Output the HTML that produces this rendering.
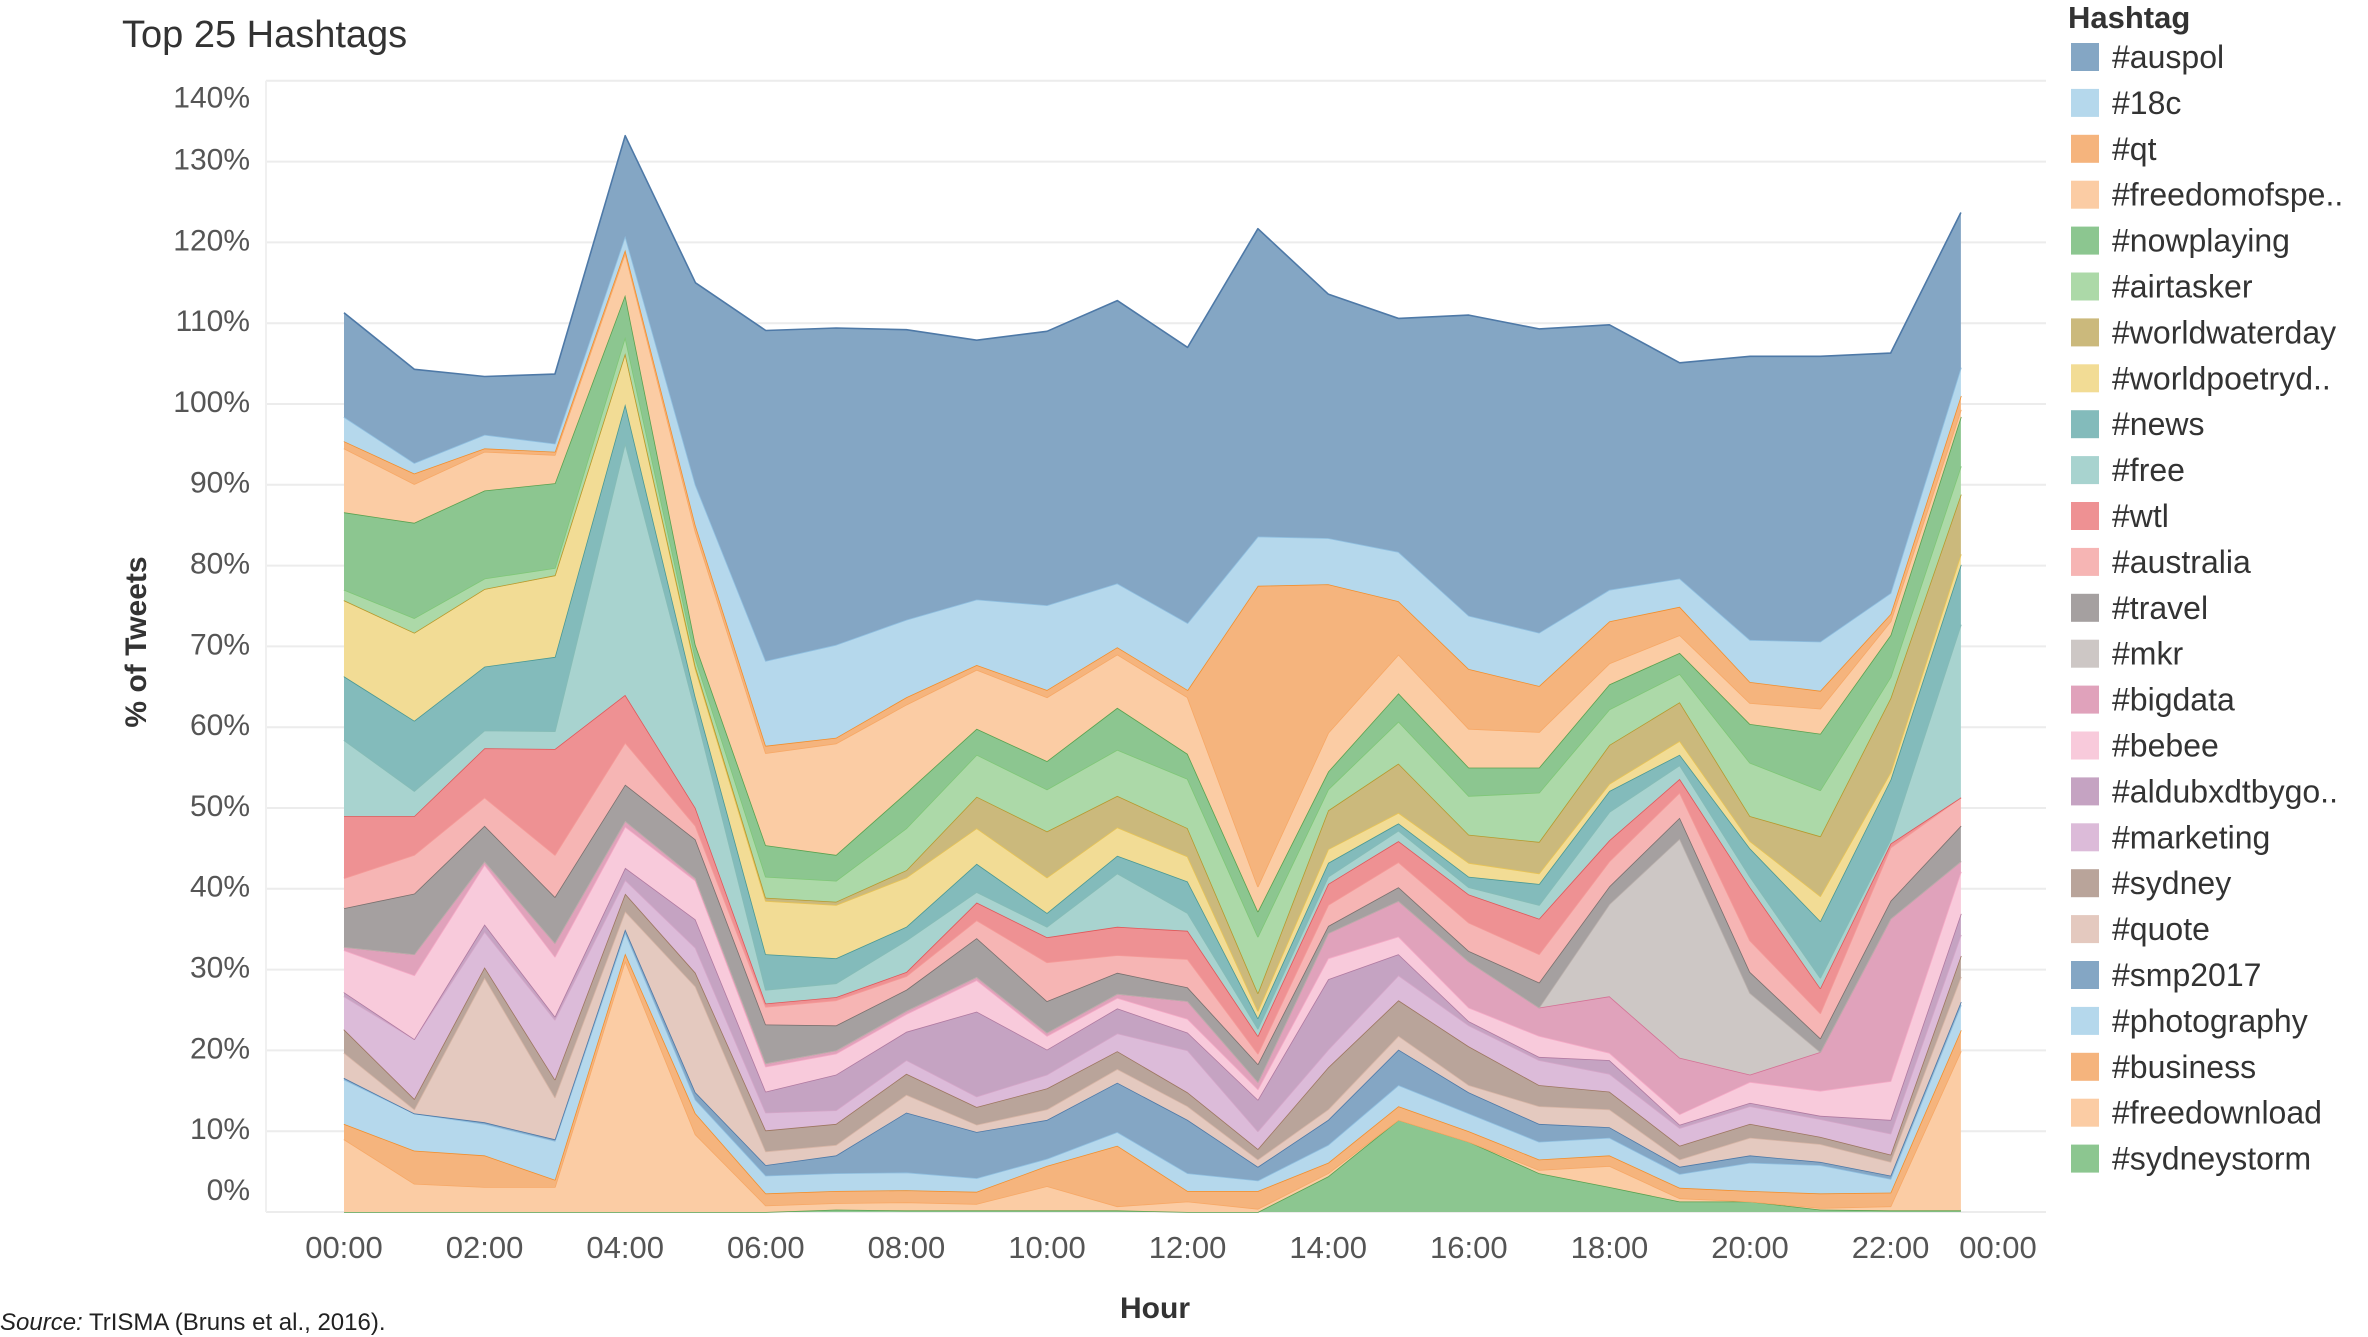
<!DOCTYPE html>
<html><head><meta charset="utf-8"><title>Top 25 Hashtags</title>
<style>
html,body{margin:0;padding:0;background:#fff;}
svg{display:block;font-family:"Liberation Sans",sans-serif;}
</style></head>
<body>
<svg id="chart" width="2368" height="1337" viewBox="0 0 2368 1337" xmlns="http://www.w3.org/2000/svg">
<text x="122" y="47" font-size="38" fill="#333">Top 25 Hashtags</text>
<g id="grid"></g>
<g id="areas"></g>
<g id="yaxis"></g>
<g id="xaxis"></g>
<text transform="translate(146,642) rotate(-90)" text-anchor="middle" font-size="30" font-weight="bold" fill="#333">% of Tweets</text>
<text x="1155" y="1318" text-anchor="middle" font-size="30" font-weight="bold" fill="#333">Hour</text>
<text x="0" y="1330" font-size="24" fill="#222"><tspan font-style="italic">Source:</tspan> TrISMA (Bruns et al., 2016).</text>
<g id="legend">
<text x="2068" y="28" font-size="31" font-weight="bold" fill="#333">Hashtag</text>
</g>
</svg>
<script>
const hours = [0,1,2,3,4,5,6,7,8,9,10,11,12,13,14,15,16,17,18,19,20,21,22,23];
const xTickHours = [0,2,4,6,8,10,12,14,16,18,20,22];
const xTickLabels = ["00:00","02:00","04:00","06:00","08:00","10:00","12:00","14:00","16:00","18:00","20:00","22:00"];
const yTicks = [0,10,20,30,40,50,60,70,80,90,100,110,120,130,140];

const sydneystorm = [0,0,0,0,0,0,0,0.3,0.2,0.2,0.2,0.2,0,0,4.4,11.4,8.7,4.8,3.1,1.3,1.3,0.3,0.2,0.2];
const freedownload = [9.0,3.5,3.1,3.1,31.1,9.6,0.8,0.8,1.0,0.8,3.0,0.5,1.3,0.4,0.4,0,0,0.4,2.6,0.4,0,0.2,0.5,19.7];
const business = [1.9,4.1,3.9,0.9,0.9,2.6,1.5,1.5,1.5,1.5,2.5,7.5,1.3,2.2,1.3,1.7,1.3,1.3,1.3,1.3,1.3,1.8,1.7,2.6];
const photography = [5.5,4.6,3.9,4.8,2.6,1.7,2.2,2.2,2.2,1.7,0.9,1.7,2.2,1.3,2.2,2.6,2.2,2.2,2.2,1.7,3.5,3.5,1.7,3.1];
const smp2017 = [0.2,0,0.2,0.2,0.4,0.9,1.3,2.2,7.4,5.7,4.8,6.1,6.6,1.7,3.1,4.4,2.6,2.2,1.3,0.9,0.9,0.4,0.4,0.4];
const quote = [3.1,0.5,17.9,5.2,2.2,13.1,1.7,1.3,2.2,0.9,1.3,1.7,1.7,0.9,1.3,1.7,0.9,2.2,2.2,0.9,2.2,2.2,1.7,3.1];
const sydney = [2.9,1.3,1.3,2.2,2.2,1.7,2.6,2.6,2.6,2.2,2.6,2.2,1.7,1.3,5.2,4.4,4.8,2.6,2.2,1.7,1.7,0.9,0.9,2.6];
const marketing = [4.1,7.4,4.4,7.4,1.7,3.1,2.2,1.7,1.7,1.3,1.7,2.2,5.2,2.2,2.2,3.1,2.6,3.1,2.2,2.2,2.2,2.2,2.6,2.6];
const aldub = [0.5,0,0.9,0.4,1.5,3.5,2.6,4.4,3.5,10.5,3.1,3.1,2.2,3.9,8.7,2.6,0.5,0.4,1.7,0.4,0.4,0.4,1.7,2.6];
const bebee = [5.2,7.9,7.4,7.4,5.1,4.8,3.1,2.6,2.2,3.9,1.7,1.3,1.7,1.3,2.6,2.2,1.7,2.6,0.9,1.3,2.6,3.1,4.8,5.2];
const bigdata = [0.4,2.6,0.4,1.7,0.7,0.3,0.4,0.4,0.4,0.4,0.4,0.5,2.2,0.9,3.1,4.4,5.7,3.5,7.0,7.0,0.9,4.8,20.1,1.3];
const mkr = [0,0,0,0,0,0,0,0,0,0,0,0,0,0,0,0,0,0,11.4,27.1,10.1,0,0,0];
const travel = [4.8,7.5,4.4,5.7,4.5,4.8,4.8,3.1,2.6,4.8,3.9,2.6,1.7,2.2,0.9,1.7,1.3,3.1,2.2,2.6,2.6,1.7,2.2,4.4];
const australia = [3.7,4.8,3.5,5.2,5.2,1.7,2.2,3.1,1.7,2.2,4.8,2.2,3.5,1.3,2.6,3.1,3.5,3.5,3.1,3.1,3.9,3.1,6.6,3.5];
const wtl = [7.7,4.8,6.1,13.1,5.9,2.2,0.4,0.4,0.5,2.2,3.1,3.5,3.5,2.2,2.6,2.6,3.5,4.4,2.6,1.7,6.6,3.1,0.5,0];
const free = [9.4,3.1,2.2,2.2,31.2,12,1.7,1.7,3.9,1.3,1.3,6.6,2.2,0.9,0.9,1.3,0.9,1.7,3.5,1.7,1.3,1.3,0.5,21.4];
const news = [7.9,8.7,7.9,9.2,4.8,1.7,4.4,3.1,1.7,3.5,1.7,2.2,3.9,1.3,1.7,0.9,1.3,2.6,2.6,1.3,3.5,7.0,7.4,7.4];
const worldpoetryday = [9.4,10.9,9.6,10.1,6.3,3.5,6.6,6.6,6.1,4.4,4.4,3.5,3.1,0.9,1.7,1.3,1.7,1.3,0.9,1.7,0.9,3.1,0.9,1.3];
const worldwaterday = [0,0,0,0,0,0.3,0.4,0.4,0.9,3.9,5.7,3.9,3.5,2.2,4.8,6.1,3.5,3.9,4.8,4.8,3.1,7.4,9.2,7.4];
const airtasker = [1.3,1.8,1.3,0.9,2.0,1.0,2.6,2.6,5.2,5.2,5.2,5.7,6.1,7.0,2.6,5.2,4.8,6.1,4.4,3.5,6.6,5.7,2.6,3.5];
const nowplaying = [9.6,11.8,10.9,10.5,5.2,1.7,3.9,3.2,4.4,3.2,3.5,5.2,3.1,3.1,2.2,3.5,3.5,3.1,3.1,2.6,4.8,7.0,5.2,6.1];
const freedomofspeech = [7.9,4.8,4.8,3.5,5.2,14,11.4,13.8,10.9,7.3,7.9,6.6,7.0,3.1,4.8,4.8,4.8,4.4,2.6,2.2,2.6,3.1,1.7,0.9];
const qt = [0.9,1.3,0.4,0.4,0.4,0.8,0.9,0.7,0.9,0.6,0.9,0.9,0.9,37.2,18.4,6.6,7.4,5.7,5.2,3.5,2.6,2.2,0.9,1.7];
const c18 = [3.0,1.3,1.7,1.0,1.7,5,10.5,11.5,9.6,8.1,10.5,7.9,8.3,6.1,5.7,6.1,6.6,6.6,3.9,3.5,5.2,6.1,2.6,3.5];
const auspol = [12.9,11.6,7.2,8.6,12.4,25,40.9,39.2,35.9,32.1,33.9,35,34.1,38.1,30.2,28.9,37.2,37.6,32.8,26.7,35.1,35.3,29.7,19.2];

// legend order (top of stack first)
const seriesNames = ["#auspol","#18c","#qt","#freedomofspe..","#nowplaying","#airtasker","#worldwaterday","#worldpoetryd..","#news","#free","#wtl","#australia","#travel","#mkr","#bigdata","#bebee","#aldubxdtbygo..","#marketing","#sydney","#quote","#smp2017","#photography","#business","#freedownload","#sydneystorm"];
const seriesValues = [auspol,c18,qt,freedomofspeech,nowplaying,airtasker,worldwaterday,worldpoetryday,news,free,wtl,australia,travel,mkr,bigdata,bebee,aldub,marketing,sydney,quote,smp2017,photography,business,freedownload,sydneystorm];
const fills = ["#84a6c4","#b5d8ec","#f5b47d","#fbcca4","#8cc690","#acd9a8","#cbb97c","#f2dc95","#83bbbb","#a8d3cf","#ee9193","#f6b5b4","#a5a0a0","#cdc7c5","#e0a2bb","#f8cadb","#c5a3c2","#dcbbd9","#b9a49a","#e4c9bf","#84a6c4","#b5d8ec","#f5b47d","#fbcca4","#8cc690"];
const strokes = ["#4e79a7","#8fbfe0","#f28e2b","#f7a866","#59a14f","#7fc777","#b6992d","#e8c456","#499894","#86bcb6","#e15759","#f59a98","#79706e","#bab0ac","#d37295","#f5aac6","#b07aa1","#d4a6c8","#9d7660","#d7b5a6","#4e79a7","#8fbfe0","#f28e2b","#f7a866","#59a14f"];

const NS = "http://www.w3.org/2000/svg";
const plotLeft = 266, plotRight = 2046, y0 = 1212, pxPerPct = 8.08;
const x0 = 344, pxPerHour = 70.3;
function xScale(h){ return x0 + h*pxPerHour; }
function yScale(v){ return y0 - v*pxPerPct; }
function mk(tag, attrs){ const e = document.createElementNS(NS, tag); for (const k in attrs) e.setAttribute(k, attrs[k]); return e; }

// grid
const grid = document.getElementById('grid');
yTicks.forEach(t => {
  const l = mk('line', {x1: plotLeft, x2: plotRight, y1: yScale(t), y2: yScale(t), stroke: '#ececec', 'stroke-width': 2});
  
  
  grid.appendChild(l);
});
const vl = mk('line', {x1: plotLeft, x2: plotLeft, y1: yScale(140), y2: y0, stroke: '#f0f0f0', 'stroke-width': 2});


grid.appendChild(vl);

// stacked areas (bottom of stack = last in legend)
const areas = document.getElementById('areas');
const n = hours.length;
let base = new Array(n).fill(0);
for (let s = seriesValues.length - 1; s >= 0; s--) {
  const vals = seriesValues[s];
  const top = base.map((b, i) => b + vals[i]);
  let d = '';
  for (let i = 0; i < n; i++) d += (i ? 'L' : 'M') + xScale(hours[i]).toFixed(1) + ',' + yScale(top[i]).toFixed(1);
  for (let i = n - 1; i >= 0; i--) d += 'L' + xScale(hours[i]).toFixed(1) + ',' + yScale(base[i]).toFixed(1);
  d += 'Z';
  const p = mk('path', {d: d, fill: fills[s], stroke: 'none'});
  
  
  areas.appendChild(p);
  let ld = '';
  for (let i = 0; i < n; i++) ld += (i ? 'L' : 'M') + xScale(hours[i]).toFixed(1) + ',' + yScale(top[i]).toFixed(1);
  const ln = mk('path', {d: ld, fill: 'none', stroke: strokes[s], 'stroke-width': 1.6, 'stroke-linejoin': 'round'});
  
  
  areas.appendChild(ln);
  base = top;
}

// y axis labels
const yaxis = document.getElementById('yaxis');
yTicks.forEach(t => {
  let y = yScale(t);
  if (t === 0) y = y0 - 20;
  if (t === 140) y = yScale(140) + 19;
  const tx = mk('text', {x: 250, y: y, 'text-anchor': 'end', 'dominant-baseline': 'middle', 'font-size': 30, fill: '#555'});
  tx.textContent = t + '%';
  
  
  yaxis.appendChild(tx);
});

// x axis labels
const xaxis = document.getElementById('xaxis');
xTickHours.forEach((h, i) => {
  const tx = mk('text', {x: xScale(h), y: 1250, 'text-anchor': 'middle', 'dominant-baseline': 'middle', 'font-size': 31, fill: '#555'});
  tx.textContent = xTickLabels[i];
  
  
  xaxis.appendChild(tx);
});
const endLbl = mk('text', {x: 1998, y: 1250, 'text-anchor': 'middle', 'dominant-baseline': 'middle', 'font-size': 31, fill: '#555'});
endLbl.textContent = '00:00';


xaxis.appendChild(endLbl);

// legend
const legend = document.getElementById('legend');
seriesNames.forEach((name, i) => {
  const y = 43 + i * 45.9;
  const g = mk('g', {});
  
  
  const r = mk('rect', {x: 2071, y: y, width: 28, height: 28, fill: fills[i]});
  
  
  const t = mk('text', {x: 2112, y: y + 25, 'font-size': 32, fill: '#333'});
  t.textContent = name;
  
  
  g.appendChild(r); g.appendChild(t);
  legend.appendChild(g);
});
</script>
</body></html>
